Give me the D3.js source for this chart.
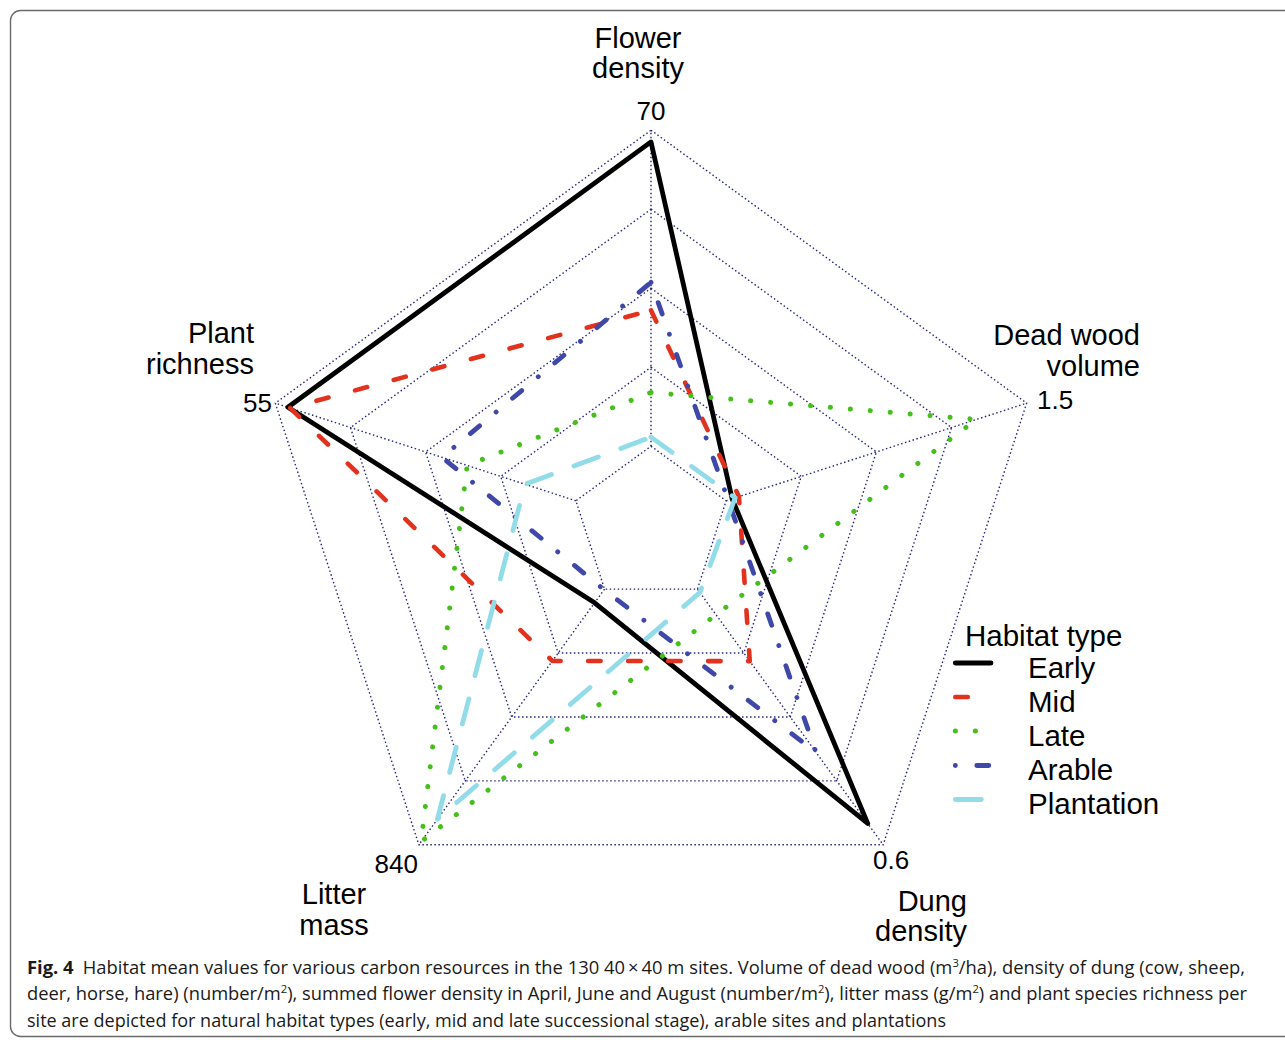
<!DOCTYPE html>
<html><head><meta charset="utf-8">
<script src="https://cdn.jsdelivr.net/npm/d3@7"></script>
<style>body{margin:0;background:#fff} svg{display:block}</style>
</head><body>
<svg id="chart" width="1285" height="1040"></svg>
<script>
// ---- data ----
const axisNames = [["Flower","density"],["Dead wood","volume"],["Dung","density"],["Litter","mass"],["Plant","richness"]];
const axisMax = [70, 1.5, 0.6, 840, 55];
const axisMaxLabels = ["70", "1.5", "0.6", "840", "55"];
const seriesNames = ["Early", "Mid", "Late", "Arable", "Plantation"];
const early      = [67.4, 0.03, 0.55, 45, 52.7];
const mid        = [30.1, 0.064, 0.169, 236, 52.3];
const late       = [11.9, 1.25, 0.06, 830, 19.9];
const arable     = [36.3, 0.01, 0.383, 2, 24.5];
const plantation = [2.0, 0.045, 0.008, 756, 9.3];
const seriesValues = [early, mid, late, arable, plantation];
const legendTitle = "Habitat type";

// ---- styles ----
const styles = [
  {color:"#000000", width:4.8, dash:null, cap:"round"},
  {color:"#e2311d", width:4.6, dash:"12.5,27.5", cap:"round"},
  {color:"#45c01a", width:5, dash:"0.1,19.9", cap:"round"},
  {color:"#3f47a8", width:4.8, dash:"0.1,21.4,12,21.5", cap:"round"},
  {color:"#92dce9", width:4.8, dash:"26,24", cap:"round"}
];

const svg = d3.select("#chart");
const cx = 651, cy = 525.2, R = 395;
const nAxes = axisMax.length;
const angle = d3.scaleLinear().domain([0, nAxes]).range([0, 2*Math.PI]);
const rScales = axisMax.map(m => d3.scaleLinear().domain([0, m]).range([R/5, R]));
const levels = d3.range(1, 6);
const levelScale = d3.scaleLinear().domain([0,5]).range([0,R]);

const g = svg.append("g").attr("transform", `translate(${cx},${cy})`);

// frame
svg.append("rect").attr("x",10.5).attr("y",10.5).attr("width",1290).attr("height",1026)
  .attr("rx",10).attr("fill","none").attr("stroke","#6a6a6a").attr("stroke-width",1.4);

const gridColor = "#262680";
const gridDash = "1.5,2.5";
// grid rings
const ringLine = d3.lineRadial().curve(d3.curveLinearClosed)
  .angle((d,i)=>angle(i)).radius(d=>d);
g.selectAll("path.ring").data(levels).join("path").attr("class","ring")
  .attr("d", k => ringLine(d3.range(nAxes).map(()=>levelScale(k))))
  .attr("fill","none").attr("stroke",gridColor).attr("stroke-width",1.4)
  .attr("stroke-dasharray",gridDash);
// spokes
g.selectAll("line.spoke").data(d3.range(nAxes)).join("line").attr("class","spoke")
  .attr("x1", i => levelScale(1)*Math.sin(angle(i)))
  .attr("y1", i => -levelScale(1)*Math.cos(angle(i)))
  .attr("x2", i => levelScale(5)*Math.sin(angle(i)))
  .attr("y2", i => -levelScale(5)*Math.cos(angle(i)))
  .attr("stroke",gridColor).attr("stroke-width",1.4).attr("stroke-dasharray",gridDash);

// series
const seriesLine = d3.lineRadial().curve(d3.curveLinearClosed)
  .angle((d,i)=>angle(i)).radius((d,i)=>rScales[i](d));
g.selectAll("path.series").data(seriesValues).join("path").attr("class","series")
  .attr("d", d => seriesLine(d))
  .attr("fill","none")
  .attr("stroke",(d,i)=>styles[i].color)
  .attr("stroke-width",(d,i)=>styles[i].width)
  .attr("stroke-linecap",(d,i)=>styles[i].cap)
  .attr("stroke-linejoin","round")
  .attr("stroke-dasharray",(d,i)=>styles[i].dash);

// labels
const font = "'Liberation Sans', Arial, Helvetica, sans-serif";
const nameLayout = [
  {anchor:"middle", x:638, y:[48,78]},
  {anchor:"end", x:1140, y:[345,376]},
  {anchor:"end", x:967, y:[911,941]},
  {anchor:"middle", x:334, y:[904,935]},
  {anchor:"end", x:254, y:[343,374]}
];
axisNames.forEach((lines,i)=>{
  const L = nameLayout[i];
  lines.forEach((t,j)=>{
    svg.append("text").attr("x",L.x).attr("y",L.y[j]).attr("text-anchor",L.anchor)
      .attr("font-family",font).attr("font-size",29).attr("fill","#000").text(t);
  });
});
const maxLayout = [
  {anchor:"middle", x:651, y:120},
  {anchor:"start", x:1037, y:409},
  {anchor:"start", x:873, y:869},
  {anchor:"end", x:418, y:873},
  {anchor:"end", x:272, y:412}
];
axisMaxLabels.forEach((t,i)=>{
  const L = maxLayout[i];
  svg.append("text").attr("x",L.x).attr("y",L.y).attr("text-anchor",L.anchor)
    .attr("font-family",font).attr("font-size",26).attr("fill","#000").text(t);
});

// legend
const lg = svg.append("g");
lg.append("text").attr("x",965).attr("y",646).attr("font-family",font).attr("font-size",29.5).text(legendTitle);
const legY = d3.scaleLinear().domain([0,1]).range([663, 697]);
seriesNames.forEach((n,i)=>{
  const s = styles[i];
  const y = legY(i) + (i>=3 ? 0.5 : 0);
  lg.append("line").attr("x1",955.3).attr("x2",991).attr("y1",y).attr("y2",y)
    .attr("stroke",s.color).attr("stroke-width",s.width).attr("stroke-linecap",s.cap)
    .attr("stroke-dasharray",s.dash);
  lg.append("text").attr("x",1028).attr("y",legY(i)+15).attr("font-family",font).attr("font-size",29.5).text(n);
});

// caption
const capFont = "'Open Sans', 'Noto Sans', sans-serif";
const cap = svg.append("g").attr("font-family",capFont).attr("font-size",18).attr("fill","#1a1a1a");
const sup = (t, s) => { t.append("tspan").attr("baseline-shift","super").attr("font-size",11).text(s); };
let t1 = cap.append("text").attr("x",27).attr("y",974).attr("textLength",1218).attr("lengthAdjust","spacingAndGlyphs");
t1.append("tspan").attr("font-weight","bold").text("Fig. 4");
t1.append("tspan").text("\u2002Habitat mean values for various carbon resources in the 130 40\u2009\u00d7\u200940 m sites. Volume of dead wood (m");
sup(t1,"3"); t1.append("tspan").text("/ha), density of dung (cow, sheep,");
let t2 = cap.append("text").attr("x",27).attr("y",1000).attr("textLength",1220).attr("lengthAdjust","spacingAndGlyphs");
t2.append("tspan").text("deer, horse, hare) (number/m"); sup(t2,"2");
t2.append("tspan").text("), summed flower density in April, June and August (number/m"); sup(t2,"2");
t2.append("tspan").text("), litter mass (g/m"); sup(t2,"2");
t2.append("tspan").text(") and plant species richness per");
cap.append("text").attr("x",27).attr("y",1027).attr("textLength",919).attr("lengthAdjust","spacingAndGlyphs")
  .text("site are depicted for natural habitat types (early, mid and late successional stage), arable sites and plantations");
</script>
</body></html>
